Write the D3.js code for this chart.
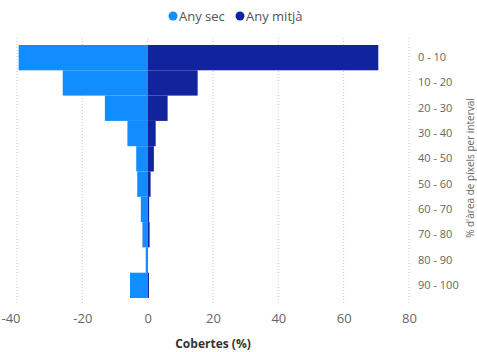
<!DOCTYPE html>
<html>
<head>
<meta charset="utf-8">
<script src="https://cdn.jsdelivr.net/npm/d3@7"></script>
<style>
  html, body { margin: 0; padding: 0; background: #fff; }
  svg { display: block; font-family: "Open Sans", "Noto Sans", sans-serif; }
</style>
</head>
<body>
<svg id="chart" width="477" height="352"></svg>
<script>
const categories = ["0 - 10", "10 - 20", "20 - 30", "30 - 40", "40 - 50", "50 - 60", "60 - 70", "70 - 80", "80 - 90", "90 - 100"];
const anySec = [-39.5, -26, -13.1, -6.2, -3.5, -3.2, -2.1, -1.6, -0.6, -5.4];
const anyMitja = [70.6, 15.3, 6.1, 2.45, 1.9, 0.9, 0.45, 0.6, 0.1, 0.4];
const xTicks = [-40, -20, 0, 20, 40, 60, 80];
const seriesNames = ["Any sec", "Any mitjà"];
const colors = ["#118DFF", "#12239E"];

const svg = d3.select("#chart");
const x = d3.scaleLinear().domain([-40, 80]).range([17, 409]);
const y = d3.scaleBand().domain(categories).range([45, 298]).padding(0);

// gridlines
svg.append("g").selectAll("line").data(xTicks).join("line")
  .attr("x1", d => x(d)).attr("x2", d => x(d))
  .attr("y1", 38).attr("y2", 303)
  .attr("stroke", "#c8c8c8").attr("stroke-width", 1)
  .attr("stroke-dasharray", "1,2");

// bars
const rows = categories.map((c, i) => ({c, s: anySec[i], m: anyMitja[i]}));
svg.append("g").selectAll("rect").data(rows).join("rect")
  .attr("x", d => x(d.s)).attr("width", d => x(0) - x(d.s))
  .attr("y", d => y(d.c)).attr("height", y.bandwidth())
  .attr("fill", colors[0]);
svg.append("g").selectAll("rect").data(rows).join("rect")
  .attr("x", x(0)).attr("width", d => x(d.m) - x(0))
  .attr("y", d => y(d.c)).attr("height", y.bandwidth())
  .attr("fill", colors[1]);

// x axis
const xAxis = d3.axisBottom(x).tickValues(xTicks).tickSize(0).tickPadding(0)
  .tickFormat(d => String(d));
const gx = svg.append("g").attr("transform", "translate(0,314)").call(xAxis);
gx.select(".domain").remove();
gx.selectAll("text").attr("font-size", 13).attr("fill", "#666").attr("font-family", "Open Sans, sans-serif").attr("dy", "0.71em");
// first label kept inside the left edge
gx.selectAll(".tick").filter(d => d === xTicks[0]).select("text")
  .attr("text-anchor", "start").attr("x", 1 - x(xTicks[0]));

// x axis title
svg.append("text").attr("x", 213).attr("y", 348).attr("text-anchor", "middle")
  .attr("font-size", 12).attr("font-weight", "bold").attr("fill", "#333")
  .text("Cobertes (%)");

// y axis (right)
const yAxis = d3.axisRight(y).tickSize(0).tickPadding(0);
const gy = svg.append("g").attr("transform", "translate(418,0)").call(yAxis);
gy.select(".domain").remove();
gy.selectAll("text").attr("font-size", 11).attr("fill", "#666").attr("font-family", "Open Sans, sans-serif");

// y axis title
svg.append("text").attr("transform", "translate(470,168) rotate(-90)")
  .attr("text-anchor", "middle").attr("dy", "0.35em").attr("font-size", 10).attr("fill", "#666")
  .text("% d'àrea de píxels per interval");

// legend
const legend = svg.append("g");
const lx = [173, 240];
seriesNames.forEach((n, i) => {
  legend.append("circle").attr("cx", lx[i]).attr("cy", 16).attr("r", 4.5).attr("fill", colors[i]);
  legend.append("text").attr("x", lx[i] + 6).attr("y", 16).attr("dy", "0.35em")
    .attr("font-size", 13).attr("fill", "#555").text(n);
});
</script>
</body>
</html>
